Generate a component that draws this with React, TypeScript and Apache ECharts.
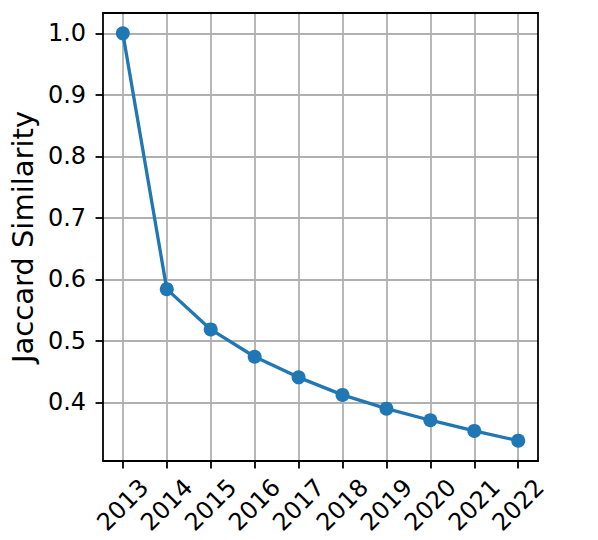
import React, { useEffect, useRef } from "react";
import * as echarts from "echarts";

const years = [2013, 2014, 2015, 2016, 2017, 2018, 2019, 2020, 2021, 2022];
const similarity = [1.0, 0.584, 0.5185, 0.474, 0.4405, 0.412, 0.3896, 0.3708, 0.3534, 0.3376];
const yTicks = [0.4, 0.5, 0.6, 0.7, 0.8, 0.9, 1.0];
const yLabel = "Jaccard Similarity";

export default function App() {
  const ref = useRef<HTMLDivElement>(null);
  useEffect(() => {
    if (!ref.current) return;
    const chart = echarts.init(ref.current, null, { renderer: "svg" });
    const font = "DejaVu Sans";
    const yMinData = Math.min(...similarity);
    const yMaxData = Math.max(...similarity);
    const yPad = (yMaxData - yMinData) * 0.05;
    const xPad = (years[years.length - 1] - years[0]) * 0.05;
    const xMin = years[0] - xPad;
    const xMax = years[years.length - 1] + xPad;
    const yMin = yMinData - yPad;
    const yMax = yMaxData + yPad;
    const spine = { show: true, onZero: false, lineStyle: { color: "#000", width: 1.8 } };
    chart.setOption({
      animation: false,
      backgroundColor: "#ffffff",
      grid: { left: 101, right: 60, top: 13, bottom: 79, containLabel: false },
      xAxis: [
        {
          type: "value",
          min: xMin,
          max: xMax,
          axisLine: spine,
          axisTick: { show: true, length: 7.5, lineStyle: { color: "#000", width: 1.8 }, customValues: years },
          axisLabel: {
            customValues: years,
            rotate: 45,
            align: "center",
            verticalAlign: "middle",
            margin: 44,
            fontFamily: font,
            fontSize: 24,
            color: "#000",
            formatter: (v: number) => String(Math.round(v)),
          },
          splitLine: { show: true, lineStyle: { color: "#b0b0b0", width: 1.8 } },
          z: 3,
        },
        {
          type: "value",
          position: "top",
          min: xMin,
          max: xMax,
          axisLine: spine,
          axisTick: { show: false },
          axisLabel: { show: false },
          splitLine: { show: false },
          z: 3,
        },
      ],
      yAxis: [
        {
          type: "value",
          min: yMin,
          max: yMax,
          name: yLabel,
          nameLocation: "middle",
          nameGap: 63,
          nameTextStyle: { fontFamily: font, fontSize: 29, color: "#000" },
          axisLine: spine,
          axisTick: { show: true, length: 7.5, lineStyle: { color: "#000", width: 1.8 }, customValues: yTicks },
          axisLabel: {
            customValues: yTicks,
            margin: 17,
            fontFamily: font,
            fontSize: 24,
            color: "#000",
            formatter: (v: number) => v.toFixed(1),
          },
          splitLine: { show: true, lineStyle: { color: "#b0b0b0", width: 1.8 } },
          z: 3,
        },
        {
          type: "value",
          position: "right",
          min: yMin,
          max: yMax,
          axisLine: spine,
          axisTick: { show: false },
          axisLabel: { show: false },
          splitLine: { show: false },
          z: 3,
        },
      ],
      series: [
        {
          type: "line",
          data: years.map((y, i) => [y, similarity[i]]),
          symbol: "circle",
          symbolSize: 14,
          lineStyle: { color: "#1f77b4", width: 3.3 },
          itemStyle: { color: "#1f77b4" },
          z: 5,
        },
      ],
    });
    return () => chart.dispose();
  }, []);
  return (
    <div
      ref={ref}
      style={{ position: "fixed", left: 0, top: 0, width: 598, height: 540, background: "#fff" }}
    />
  );
}
